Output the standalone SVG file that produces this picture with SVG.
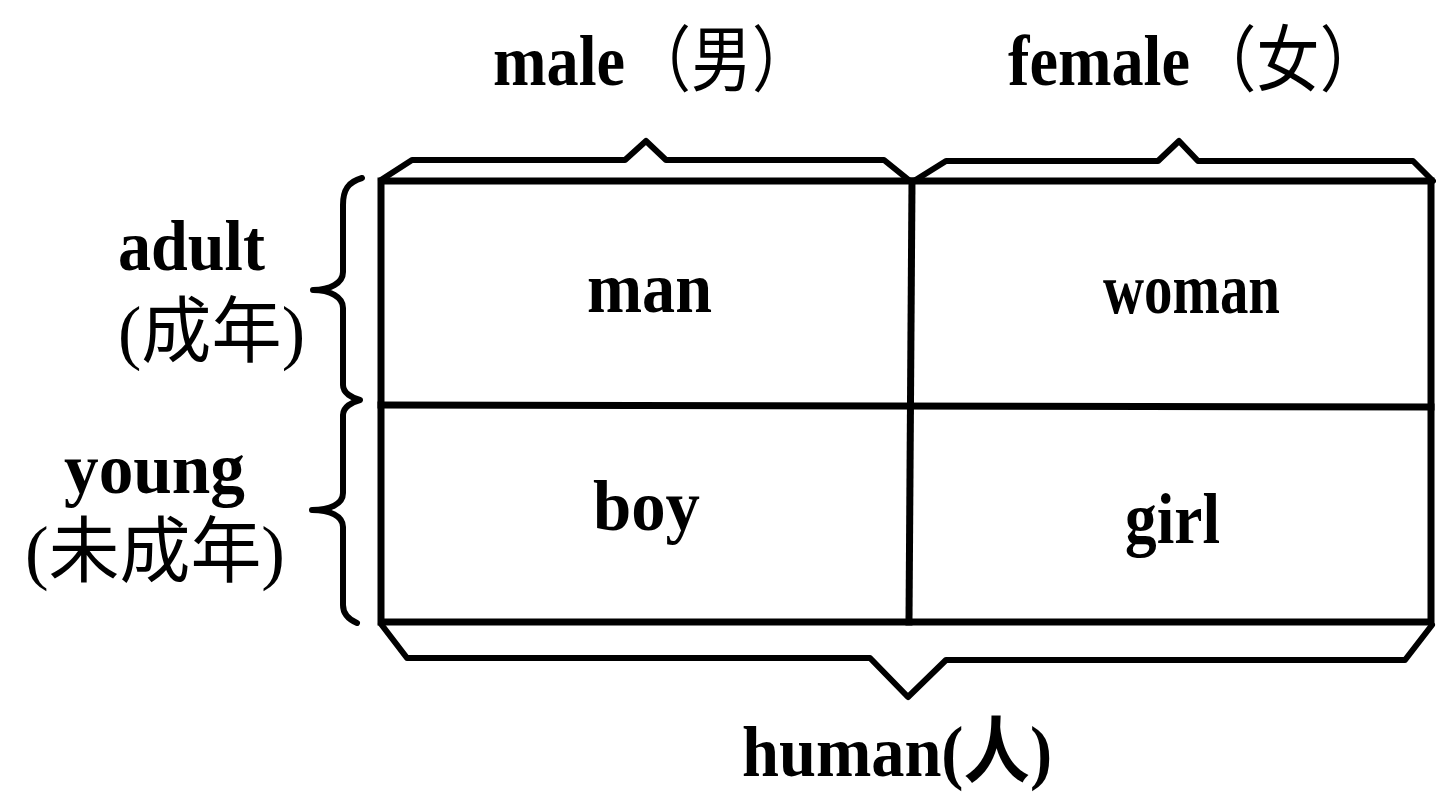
<svg xmlns="http://www.w3.org/2000/svg" width="1436" height="795" viewBox="0 0 1436 795">
<style>
.t{font-family:"Liberation Serif","Noto Sans CJK SC",serif;font-weight:bold;font-size:72px;fill:#000}
.c{font-family:"Liberation Serif","Noto Sans CJK SC",serif;font-weight:normal;font-size:72px;fill:#000}
.ln{fill:none;stroke:#000;stroke-width:7;stroke-linejoin:miter;stroke-linecap:square}
.br{fill:none;stroke:#000;stroke-width:6;stroke-linejoin:round;stroke-linecap:round}
</style>
<rect width="1436" height="795" fill="#fff"/>
<g id="table">
<rect class="ln" x="381" y="181" width="1050" height="441"/>
<line class="ln" x1="381" y1="405" x2="1431" y2="407"/>
<line class="ln" x1="912" y1="181" x2="909" y2="622"/>
</g>
<g id="connectors">
<path class="br" d="M381,180 L412,160 L625,160 L646,141 L666,160 L884,160 L910,181"/>
<path class="br" d="M914,181 L946,161 L1158,161 L1179,141 L1198,161 L1413,161 L1433,181"/>
<path class="br" d="M381,624 L407,658 L870,658 L908,697 L946,660 L1405,660 L1432,625"/>
<path class="br" d="M362,178 C348,182 343,190 343,205 L343,272 C343,283 330,290 313,290 C330,290 343,297 343,308 L343,385 C343,393 352,398 360,400 C352,402 343,407 343,415 L343,493 C343,504 330,510 312,510 C330,510 343,516 343,527 L343,605 C343,615 350,620 357,623"/>
</g>
<g id="male"><text class="t" x="493" y="85" textLength="132" lengthAdjust="spacingAndGlyphs">male</text>
<text class="c" x="630" y="85" textLength="183" lengthAdjust="spacingAndGlyphs">（男）</text></g>
<g id="female"><text class="t" x="1008" y="85" textLength="182" lengthAdjust="spacingAndGlyphs">female</text>
<text class="c" x="1193" y="85" textLength="190" lengthAdjust="spacingAndGlyphs">（女）</text></g>
<g id="adult"><text class="t" x="118" y="270" textLength="147" lengthAdjust="spacingAndGlyphs">adult</text>
<text class="c" x="118" y="356" textLength="187" lengthAdjust="spacingAndGlyphs">(成年)</text></g>
<g id="young"><text class="t" x="64" y="493" textLength="181" lengthAdjust="spacingAndGlyphs">young</text>
<text class="c" x="25" y="576" textLength="260" lengthAdjust="spacingAndGlyphs">(未成年)</text></g>
<g id="man"><text class="t" x="587" y="312" textLength="125" lengthAdjust="spacingAndGlyphs">man</text></g>
<g id="woman"><text class="t" x="1103" y="313" textLength="177" lengthAdjust="spacingAndGlyphs">woman</text></g>
<g id="boy"><text class="t" x="593" y="530" textLength="107" lengthAdjust="spacingAndGlyphs">boy</text></g>
<g id="girl"><text class="t" x="1125" y="543" textLength="95" lengthAdjust="spacingAndGlyphs">girl</text></g>
<g id="human"><text class="t" x="742" y="776" textLength="310" lengthAdjust="spacingAndGlyphs">human(人)</text></g>
</svg>
